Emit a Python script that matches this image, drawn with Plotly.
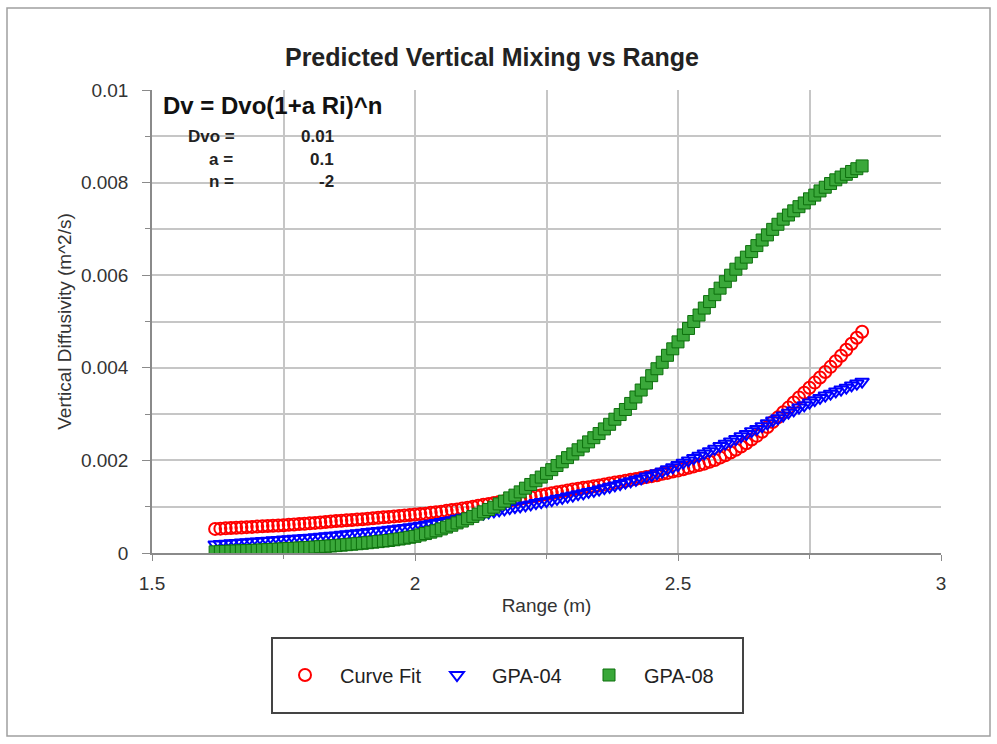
import plotly.graph_objects as go

# Range samples shared by all three series (m)
range_m = [
    1.62, 1.63, 1.64, 1.65, 1.66, 1.67, 1.68, 1.69, 1.70, 1.71,
    1.72, 1.73, 1.74, 1.75, 1.76, 1.77, 1.78, 1.79, 1.80, 1.81,
    1.82, 1.83, 1.84, 1.85, 1.86, 1.87, 1.88, 1.89, 1.90, 1.91,
    1.92, 1.93, 1.94, 1.95, 1.96, 1.97, 1.98, 1.99, 2.00, 2.01,
    2.02, 2.03, 2.04, 2.05, 2.06, 2.07, 2.08, 2.09, 2.10, 2.11,
    2.12, 2.13, 2.14, 2.15, 2.16, 2.17, 2.18, 2.19, 2.20, 2.21,
    2.22, 2.23, 2.24, 2.25, 2.26, 2.27, 2.28, 2.29, 2.30, 2.31,
    2.32, 2.33, 2.34, 2.35, 2.36, 2.37, 2.38, 2.39, 2.40, 2.41,
    2.42, 2.43, 2.44, 2.45, 2.46, 2.47, 2.48, 2.49, 2.50, 2.51,
    2.52, 2.53, 2.54, 2.55, 2.56, 2.57, 2.58, 2.59, 2.60, 2.61,
    2.62, 2.63, 2.64, 2.65, 2.66, 2.67, 2.68, 2.69, 2.70, 2.71,
    2.72, 2.73, 2.74, 2.75, 2.76, 2.77, 2.78, 2.79, 2.80, 2.81,
    2.82, 2.83, 2.84, 2.85,
]

# Vertical diffusivity (m^2/s)
curve_fit = [
    0.00052, 0.000526, 0.000532, 0.00054, 0.000546, 0.000552, 0.000558, 0.000564, 0.00057, 0.000576,
    0.000582, 0.000588, 0.000594, 0.0006, 0.000608, 0.000616, 0.000624, 0.000632, 0.00064, 0.00065,
    0.00066, 0.00067, 0.00068, 0.00069, 0.000698, 0.000706, 0.000714, 0.000722, 0.00073, 0.00074,
    0.00075, 0.00076, 0.00077, 0.00078, 0.00079, 0.0008, 0.00081, 0.00082, 0.00083, 0.00084,
    0.00085, 0.00087, 0.00088, 0.00089, 0.00091, 0.00093, 0.00094, 0.00096, 0.00098, 0.001,
    0.00102, 0.00104, 0.00106, 0.00108, 0.0011, 0.00112, 0.00113, 0.00115, 0.00117, 0.00119,
    0.00121, 0.00123, 0.00125, 0.00127, 0.00129, 0.00131, 0.00133, 0.00135, 0.00137, 0.00139,
    0.00141, 0.00142, 0.00144, 0.00146, 0.00148, 0.0015, 0.00152, 0.00154, 0.00156, 0.00158,
    0.0016, 0.00162, 0.00164, 0.00166, 0.00168, 0.00171, 0.00173, 0.00176, 0.00178, 0.00181,
    0.00184, 0.00187, 0.0019, 0.00193, 0.00197, 0.00201, 0.00206, 0.00211, 0.00217, 0.00223,
    0.0023, 0.00237, 0.00245, 0.00253, 0.00262, 0.00272, 0.00283, 0.00293, 0.00304, 0.00314,
    0.00325, 0.00336, 0.00346, 0.00357, 0.00368, 0.00379, 0.00391, 0.00402, 0.00414, 0.00426,
    0.00439, 0.00452, 0.00465, 0.00478,
]

gpa_04 = [
    0.000186, 0.000194, 0.000202, 0.00021, 0.000218, 0.000226, 0.000234, 0.000242, 0.00025, 0.000258,
    0.000266, 0.000274, 0.000282, 0.00029, 0.000298, 0.000306, 0.000314, 0.000322, 0.00033, 0.00034,
    0.00035, 0.00036, 0.00037, 0.00038, 0.000392, 0.000404, 0.000416, 0.000428, 0.00044, 0.000452,
    0.000464, 0.000476, 0.000488, 0.0005, 0.000514, 0.000528, 0.000542, 0.000556, 0.00057, 0.00059,
    0.00061, 0.00063, 0.00065, 0.00067, 0.00069, 0.00071, 0.00074, 0.00076, 0.00078, 0.0008,
    0.00083, 0.00085, 0.00088, 0.0009, 0.00092, 0.00094, 0.00097, 0.00099, 0.00101, 0.00103,
    0.00105, 0.00108, 0.0011, 0.00112, 0.00114, 0.00117, 0.00119, 0.00122, 0.00124, 0.00127,
    0.00129, 0.00132, 0.00134, 0.00137, 0.0014, 0.00143, 0.00146, 0.00149, 0.00152, 0.00155,
    0.00158, 0.00161, 0.00165, 0.00168, 0.00172, 0.00176, 0.00181, 0.00185, 0.0019, 0.00195,
    0.002, 0.00205, 0.0021, 0.00215, 0.0022, 0.00225, 0.00231, 0.00236, 0.00241, 0.00246,
    0.00252, 0.00257, 0.00263, 0.00268, 0.00274, 0.0028, 0.00286, 0.00291, 0.00297, 0.00303,
    0.00308, 0.00314, 0.00319, 0.00325, 0.0033, 0.00335, 0.0034, 0.00344, 0.00349, 0.00353,
    0.00357, 0.00362, 0.00366, 0.0037,
]

gpa_08 = [
    0.000025, 0.00003, 0.000035, 0.00004, 0.000044, 0.000048, 0.000052, 0.000056, 0.00006, 0.000066,
    0.000072, 0.000078, 0.000084, 0.00009, 0.000096, 0.000102, 0.000108, 0.000114, 0.00012, 0.000128,
    0.000136, 0.000144, 0.000152, 0.00016, 0.00017, 0.00018, 0.00019, 0.0002, 0.00021, 0.000222,
    0.000234, 0.000246, 0.000258, 0.00027, 0.000286, 0.000302, 0.00032, 0.00034, 0.00036, 0.00039,
    0.00042, 0.00045, 0.00048, 0.00052, 0.00056, 0.0006, 0.00065, 0.00069, 0.00074, 0.00079,
    0.00084, 0.00089, 0.00094, 0.00099, 0.00106, 0.00112, 0.00119, 0.00125, 0.00132, 0.0014,
    0.00148, 0.00156, 0.00164, 0.00172, 0.0018, 0.00189, 0.00197, 0.00206, 0.00214, 0.00223,
    0.00231, 0.0024, 0.00249, 0.00258, 0.00268, 0.00278, 0.00289, 0.00299, 0.0031, 0.00323,
    0.00337, 0.00352, 0.00367, 0.00383, 0.00398, 0.00412, 0.00427, 0.00441, 0.00456, 0.00471,
    0.00485, 0.005, 0.00514, 0.00529, 0.00543, 0.00558, 0.00572, 0.00586, 0.006, 0.00613,
    0.00626, 0.00639, 0.00651, 0.00664, 0.00676, 0.00687, 0.00699, 0.0071, 0.00721, 0.0073,
    0.00739, 0.00748, 0.00756, 0.00765, 0.00773, 0.00782, 0.0079, 0.00798, 0.00806, 0.00812,
    0.00818, 0.00824, 0.0083, 0.00836,
]

# Axis ticks
x_tick_vals = [1.5, 2.0, 2.5, 3.0]
x_tick_text = ["1.5", "2", "2.5", "3"]
x_minor_vals = [1.75, 2.25, 2.75]
y_tick_vals = [0, 0.002, 0.004, 0.006, 0.008, 0.01]
y_tick_text = ["0", "0.002", "0.004", "0.006", "0.008", "0.01"]
y_minor_vals = [0.001, 0.003, 0.005, 0.007, 0.009]

# Model parameters shown in the inset table
param_names = ["Dvo =", "a =", "n ="]
param_values = ["0.01", "0.1", "-2"]

FONT = "Liberation Sans, Arial, sans-serif"
GRID = "#c6c6c6"
AXIS = "#8a8a8a"

fig = go.Figure()

fig.add_trace(go.Scatter(
    x=range_m, y=curve_fit, mode="markers", name="Curve Fit",
    marker=dict(symbol="circle-open", size=12, color="#ff0000", line=dict(width=2, color="#ff1a1a")),
))
fig.add_trace(go.Scatter(
    x=range_m, y=gpa_04, mode="markers", name="GPA-04",
    marker=dict(symbol="triangle-down-open", size=12, color="#0000ff", line=dict(width=2, color="#1010ff")),
))
fig.add_trace(go.Scatter(
    x=range_m, y=gpa_08, mode="markers", name="GPA-08",
    marker=dict(symbol="square", size=12, color="#3aa83a", line=dict(width=1, color="#0d700d")),
))

# Paper-coordinate helpers for the fixed 997x744 canvas
L, R, T, B = 152, 56, 90, 191
PW, PH = 997 - L - R, 744 - T - B


def px_x(px):
    return (px - L) / PW


def px_y(py):
    return (744 - B - py) / PH


shapes = [
    # outer chart frame
    dict(type="rect", xref="paper", yref="paper",
         x0=px_x(7), x1=px_x(990), y0=px_y(736), y1=px_y(8),
         line=dict(color="#a0a0a0", width=1.5), fillcolor="rgba(0,0,0,0)", layer="below"),
    # white panel under the formula
    dict(type="rect", xref="paper", yref="paper",
         x0=px_x(153), x1=px_x(343), y0=px_y(196), y1=px_y(92),
         line=dict(width=0), fillcolor="white", layer="between"),
    # legend frame
    dict(type="rect", xref="paper", yref="paper",
         x0=px_x(272), x1=px_x(743), y0=px_y(713), y1=px_y(638),
         line=dict(color="#444444", width=2), fillcolor="rgba(0,0,0,0)", layer="above"),
]

annotations = [
    dict(text="<b>Dv = Dvo(1+a Ri)^n</b>", xref="paper", yref="paper",
         x=px_x(161), y=px_y(106), xanchor="left", yanchor="middle", showarrow=False,
         font=dict(family=FONT, size=24, color="#111111")),
]
row_y = [136, 159, 182]
name_x = [186, 207, 207]
for nm, val, yy, xx in zip(param_names, param_values, row_y, name_x):
    annotations.append(dict(text=f"<b>{nm}</b>", xref="paper", yref="paper",
                            x=px_x(xx), y=px_y(yy), xanchor="left", yanchor="middle",
                            showarrow=False, font=dict(family=FONT, size=17, color="#222222")))
    annotations.append(dict(text=f"<b>{val}</b>", xref="paper", yref="paper",
                            x=px_x(336), y=px_y(yy), xanchor="right", yanchor="middle",
                            showarrow=False, font=dict(family=FONT, size=17, color="#222222")))

fig.update_layout(
    width=997, height=744,
    margin=dict(l=L, r=R, t=T, b=B),
    paper_bgcolor="white", plot_bgcolor="white",
    font=dict(family=FONT, size=19, color="#333333"),
    title=dict(text="<b>Predicted Vertical Mixing vs Range</b>",
               x=px_x(492), xref="paper", xanchor="center",
               y=1 - 57 / 744, yref="container", yanchor="middle",
               font=dict(family=FONT, size=25, color="#222222")),
    xaxis=dict(
        range=[1.5, 3.0], tickmode="array", tickvals=x_tick_vals, ticktext=x_tick_text,
        showgrid=True, gridcolor=GRID, gridwidth=1.5,
        showline=True, linecolor=AXIS, linewidth=1.5,
        ticks="outside", ticklen=6, tickcolor=AXIS, ticklabelstandoff=6,
        minor=dict(tickvals=x_minor_vals, showgrid=True, gridcolor=GRID, gridwidth=1.5,
                   ticks="outside", ticklen=4, tickcolor=AXIS),
        zeroline=False,
        title=dict(text="Range (m)", standoff=6, font=dict(size=19, color="#333333")),
    ),
    yaxis=dict(
        range=[0, 0.01], tickmode="array", tickvals=y_tick_vals, ticktext=y_tick_text,
        showgrid=True, gridcolor=GRID, gridwidth=1.5,
        showline=True, linecolor=AXIS, linewidth=1.5,
        ticks="outside", ticklen=8, tickcolor=AXIS, ticklabelstandoff=10,
        minor=dict(tickvals=y_minor_vals, showgrid=True, gridcolor=GRID, gridwidth=1.5,
                   ticks="outside", ticklen=5, tickcolor=AXIS),
        zeroline=False,
        title=dict(text="Vertical Diffusivity (m^2/s)", standoff=4, font=dict(size=19, color="#333333")),
    ),
    legend=dict(
        orientation="h", x=px_x(270), xanchor="left", y=px_y(675), yanchor="middle",
        bgcolor="rgba(0,0,0,0)", borderwidth=0,
        font=dict(family=FONT, size=20, color="#222222"),
        itemwidth=60, entrywidth=77, entrywidthmode="pixels",
    ),
    shapes=shapes,
    annotations=annotations,
)

fig.write_html("out.html")
